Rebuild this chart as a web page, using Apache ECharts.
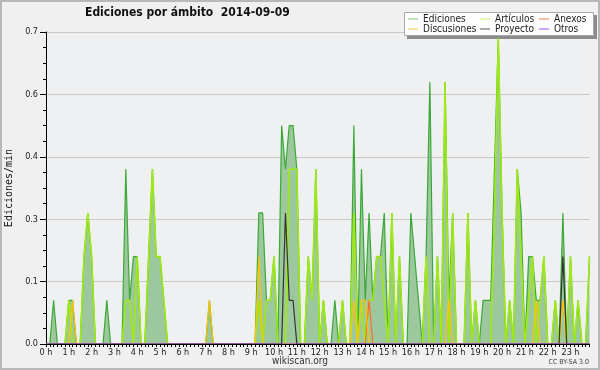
<!DOCTYPE html>
<html><head><meta charset="utf-8">
<script src="https://cdn.jsdelivr.net/npm/echarts@6/dist/echarts.min.js"></script>
<style>html,body{margin:0;padding:0;background:#f0f0f0}#c{width:600px;height:370px}</style>
</head><body><div id="c"></div>
<script>
const hourLabels = ['0 h','1 h','2 h','3 h','4 h','5 h','6 h','7 h','8 h','9 h','10 h','11 h',
  '12 h','13 h','14 h','15 h','16 h','17 h','18 h','19 h','20 h','21 h','22 h','23 h'];
const slotMinutes = ['00','10','20','30','40','50'];
const times = [];
hourLabels.forEach((h, hi) => slotMinutes.forEach(m => times.push(hi + ':' + m)));
const yTickLabels = ['0.0','0.1','0.3','0.4','0.6','0.7'];

// edits per minute, one value per 10-minute slot (00:00 .. 23:50)
const ediciones = [
  0,0,0.1,0,0,0,0.1,0.1,0,0,0.2,0.3,
  0.2,0,0,0,0.1,0,0,0,0,0.4,0.1,0.2,
  0.2,0,0,0.2,0.4,0.2,0.2,0.1,0,0,0,0,
  0,0,0,0,0,0,0,0.1,0,0,0,0,
  0,0,0,0,0,0,0,0,0.3,0.3,0.1,0.1,
  0.2,0,0.5,0.4,0.5,0.5,0.4,0,0,0.2,0.1,0.4,
  0,0.1,0,0,0.1,0,0.1,0,0,0.5,0,0.4,
  0.1,0.3,0.1,0.2,0.2,0.3,0,0.3,0,0.2,0,0,
  0.3,0.2,0.1,0,0.2,0.6,0,0.2,0,0.6,0.1,0.3,
  0,0,0,0.3,0,0.1,0,0.1,0.1,0.1,0.4,0.7,
  0.3,0,0.1,0,0.4,0.3,0,0.2,0.2,0.1,0.1,0.2,
  0,0,0.1,0,0.3,0,0.2,0,0.1,0,0,0.2
];
const articulos = [
  0,0,0,0,0,0,0.1,0,0,0,0.2,0.3,
  0.2,0,0,0,0,0,0,0,0,0.1,0.1,0,
  0.2,0,0,0.2,0.4,0.2,0.2,0.1,0,0,0,0,
  0,0,0,0,0,0,0,0,0,0,0,0,
  0,0,0,0,0,0,0,0,0.1,0,0.1,0.1,
  0.2,0,0,0,0.4,0.4,0.4,0,0,0.2,0.1,0.4,
  0,0.1,0,0,0,0,0.1,0,0,0.3,0,0.1,
  0,0.1,0.1,0.2,0.2,0.1,0,0.3,0,0.2,0,0,
  0,0,0,0,0.2,0,0,0.2,0,0.6,0,0.3,
  0,0,0,0.3,0,0.1,0,0,0,0,0.3,0.7,
  0.3,0,0.1,0,0.4,0.2,0,0.1,0.2,0,0.1,0.2,
  0,0,0.1,0,0,0,0.2,0,0.1,0,0,0.2
];
const anexos = [
  0,0,0,0,0,0,0,0,0,0,0,0,
  0,0,0,0,0,0,0,0,0,0,0,0,
  0,0,0,0,0,0,0,0,0,0,0,0,
  0,0,0,0,0,0,0,0,0,0,0,0,
  0,0,0,0,0,0,0,0,0,0,0,0,
  0,0,0,0,0,0,0,0,0,0,0,0,
  0,0,0,0,0,0,0,0,0,0,0,0,
  0,0.1,0,0,0,0,0,0,0,0,0,0,
  0,0,0,0,0,0,0,0,0,0,0,0,
  0,0,0,0,0,0,0,0,0,0,0,0,
  0,0,0,0,0,0,0,0,0,0,0,0,
  0,0,0,0,0,0,0,0,0,0,0,0
];
const discusiones = [
  0,0,0,0,0,0,0,0.1,0,0,0,0,
  0,0,0,0,0,0,0,0,0,0,0,0,
  0,0,0,0,0,0,0,0,0,0,0,0,
  0,0,0,0,0,0,0,0.1,0,0,0,0,
  0,0,0,0,0,0,0,0,0.2,0,0,0,
  0,0,0,0,0,0,0,0,0,0,0,0,
  0,0,0,0,0,0,0,0,0,0.1,0,0.1,
  0.1,0,0,0,0,0,0,0,0,0,0,0,
  0,0,0,0,0,0,0,0,0,0,0.1,0,
  0,0,0,0,0,0,0,0,0,0,0,0,
  0,0,0,0,0,0,0,0,0,0.1,0,0,
  0,0,0,0,0.1,0,0,0,0,0,0,0
];
const proyecto = [
  0,0,0,0,0,0,0,0,0,0,0,0,
  0,0,0,0,0,0,0,0,0,0,0,0,
  0,0,0,0,0,0,0,0,0,0,0,0,
  0,0,0,0,0,0,0,0,0,0,0,0,
  0,0,0,0,0,0,0,0,0,0,0,0,
  0,0,0,0.3,0.1,0.1,0,0,0,0,0,0,
  0,0,0,0,0,0,0,0,0,0,0,0,
  0,0,0,0,0,0,0,0,0,0,0,0,
  0,0,0,0,0,0,0,0,0,0,0,0,
  0,0,0,0,0,0,0,0,0,0,0,0,
  0,0,0,0,0,0,0,0,0,0,0,0,
  0,0,0,0,0.2,0,0,0,0,0,0,0
];
const otros = [
  0,0,0,0,0,0,0,0,0,0,0,0,
  0,0,0,0,0,0,0,0,0,0,0,0,
  0,0,0,0,0,0,0,0,0,0,0,0,
  0,0,0,0,0,0,0,0,0,0,0,0,
  0,0,0,0,0,0,0,0,0,0,0,0,
  0,0,0,0,0,0,0,0,0,0,0,0,
  0,0,0,0,0,0,0,0,0,0,0,0,
  0,0,0,0,0,0,0,0,0,0,0,0,
  0,0,0,0,0,0,0,0,0,0,0,0,
  0,0,0,0,0,0,0,0,0,0,0,0,
  0,0,0,0,0,0,0,0,0,0,0,0,
  0,0,0,0,0,0,0,0,0,0,0,0
];

const FONT = "'DejaVu Sans Condensed', 'DejaVu Sans', sans-serif";
const chart = echarts.init(document.getElementById('c'), null, {renderer: 'canvas'});

function lineSeries(name, data, color, width, extra) {
  return Object.assign({
    name: name, type: 'line', data: data, symbol: 'none', showSymbol: false,
    lineStyle: {color: color, width: width}, itemStyle: {color: color},
    emphasis: {disabled: true}
  }, extra || {});
}
const legendBase = {
  orient: 'vertical', top: 14, itemGap: 0, itemWidth: 10, itemHeight: 1, icon: 'rect',
  selectedMode: false, padding: 0,
  textStyle: {fontFamily: FONT, fontSize: 10, lineHeight: 10, color: '#222'}
};

chart.setOption({
  backgroundColor: '#f0f0f0',
  animation: false,
  title: {
    text: 'Ediciones por ámbito  2014-09-09', left: 85, top: 7, padding: 0,
    textStyle: {fontFamily: FONT, fontWeight: 'bold', fontSize: 12, color: '#111'}
  },
  grid: {left: 46, right: 10.5, top: 32, bottom: 26, show: true, backgroundColor: '#eff0f2', borderWidth: 0,
    containLabel: false, outerBoundsMode: 'none'},
  xAxis: {
    type: 'category', data: times, boundaryGap: false, z: 10,
    axisLine: {lineStyle: {color: '#000', width: 1}},
    axisTick: {interval: 0, length: 3, lineStyle: {color: '#000'}},
    axisLabel: {interval: 5, formatter: (v, i) => hourLabels[i / 6], margin: 4,
      fontFamily: FONT, fontSize: 9, color: '#222'},
    splitLine: {show: false}
  },
  yAxis: {
    type: 'value', min: 0, max: 5 / 7, interval: 1 / 7,
    axisLine: {show: true, lineStyle: {color: '#000'}},
    axisTick: {show: true, length: 6, lineStyle: {color: '#000'}},
    minorTick: {show: true, splitNumber: 4, length: 3, lineStyle: {color: '#000'}},
    axisLabel: {formatter: (v, i) => yTickLabels[i], margin: 8, fontFamily: FONT, fontSize: 9, color: '#222'},
    splitLine: {lineStyle: {color: '#c9c9c9', width: 1}},
    name: 'Ediciones/min', nameLocation: 'middle', nameGap: 31, nameRotate: 90,
    nameTextStyle: {fontFamily: "'DejaVu Sans Mono', monospace", fontSize: 10, color: '#111'}
  },
  legend: [
    Object.assign({}, legendBase, {left: 408, data: [
      {name: 'Ediciones', itemStyle: {color: '#7cc87c'}},
      {name: 'Discusiones', itemStyle: {color: '#f6c83c'}}]}),
    Object.assign({}, legendBase, {left: 480, data: [
      {name: 'Artículos', itemStyle: {color: '#c8f060'}},
      {name: 'Proyecto', itemStyle: {color: '#555555'}}]}),
    Object.assign({}, legendBase, {left: 539, data: [
      {name: 'Anexos', itemStyle: {color: '#f08050'}},
      {name: 'Otros', itemStyle: {color: '#9a50f0'}}]})
  ],
  graphic: [
    {type: 'rect', z: 3, shape: {x: 407, y: 15, width: 190, height: 24}, style: {fill: '#8c8c8c'}},
    {type: 'rect', z: 3, shape: {x: 404.5, y: 12.5, width: 189, height: 23}, style: {fill: '#fdfdfd', stroke: '#a8a8a8', lineWidth: 1}},
    {type: 'text', z: 3, x: 300, y: 361, style: {text: 'wikiscan.org', align: 'center', verticalAlign: 'middle',
      font: "10px 'DejaVu Sans Condensed', 'DejaVu Sans', sans-serif", fill: '#333'}},
    {type: 'text', z: 3, x: 589, y: 362, style: {text: 'CC BY-SA 3.0', align: 'right', verticalAlign: 'middle',
      font: "7px 'DejaVu Sans Condensed', 'DejaVu Sans', sans-serif", fill: '#444'}},
    {type: 'rect', z: 20, shape: {x: 1, y: 1, width: 598, height: 368}, style: {fill: 'none', stroke: '#b8b8b8', lineWidth: 2}}
  ],
  series: [
    lineSeries('Ediciones', ediciones, '#3aa936', 1.2, {areaStyle: {color: '#9dc89d', opacity: 1}}),
    lineSeries('Artículos', articulos, '#a0ea14', 1.6),
    lineSeries('Anexos', anexos, '#ff6a30', 1.2),
    lineSeries('Discusiones', discusiones, '#ffc400', 1.2),
    lineSeries('Proyecto', proyecto, '#333333', 1.2),
    lineSeries('Otros', otros, '#9040ff', 1.2)
  ]
});
</script></body></html>
